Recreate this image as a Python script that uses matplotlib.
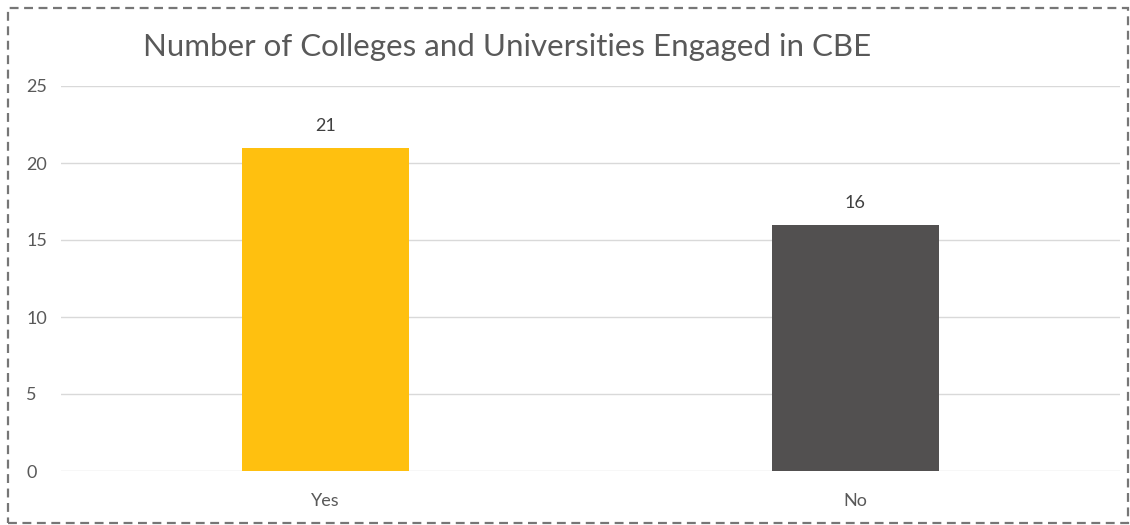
import matplotlib
matplotlib.use("Agg")
import matplotlib.pyplot as plt
from matplotlib.patches import Rectangle

categories = ["Yes", "No"]
values = [21, 16]
colors = ["#FFC00F", "#525050"]
yticks = [0, 5, 10, 15, 20, 25]
title = "Number of Colleges and Universities Engaged in CBE"

plt.rcParams['font.family'] = ['Lato', 'DejaVu Sans']
text_color = "#595959"

fig = plt.figure(figsize=(11.3, 5.25), dpi=100)
ax = fig.add_axes([61/1130, 1 - 471/525, (1120-61)/1130, (471-86)/525])

x = list(range(len(categories)))
bars = ax.bar(x, values, width=0.315, color=colors, zorder=3)
for xi, v in zip(x, values):
    ax.annotate(str(v), (xi, v), xytext=(0, 10), textcoords="offset points",
                ha="center", va="bottom", fontsize=13, color="#404040")

ax.set_xlim(-0.5, 1.5)
ax.set_ylim(0, 25)
ax.set_yticks(yticks)
ax.set_xticks(x)
ax.set_xticklabels(categories)
ax.tick_params(axis='both', length=0, labelsize=13, colors=text_color)
ax.tick_params(axis='y', pad=25)
ax.tick_params(axis='x', pad=16)
for lbl in ax.get_yticklabels():
    lbl.set_horizontalalignment('left')
ax.yaxis.grid(True, color="#D9D9D9", linewidth=1, zorder=0)
for s in ax.spines.values():
    s.set_visible(False)

fig.text(143/1130, 1 - 47/525, title, fontsize=22.5, color=text_color,
         ha="left", va="center")

border = Rectangle((8/1130, 2/525), 1120/1130, 515/525, transform=fig.transFigure,
                   fill=False, edgecolor="#767676", linewidth=1.6,
                   linestyle=(0, (4, 2.5)))
fig.add_artist(border)

fig.savefig("out.png", dpi=100)
